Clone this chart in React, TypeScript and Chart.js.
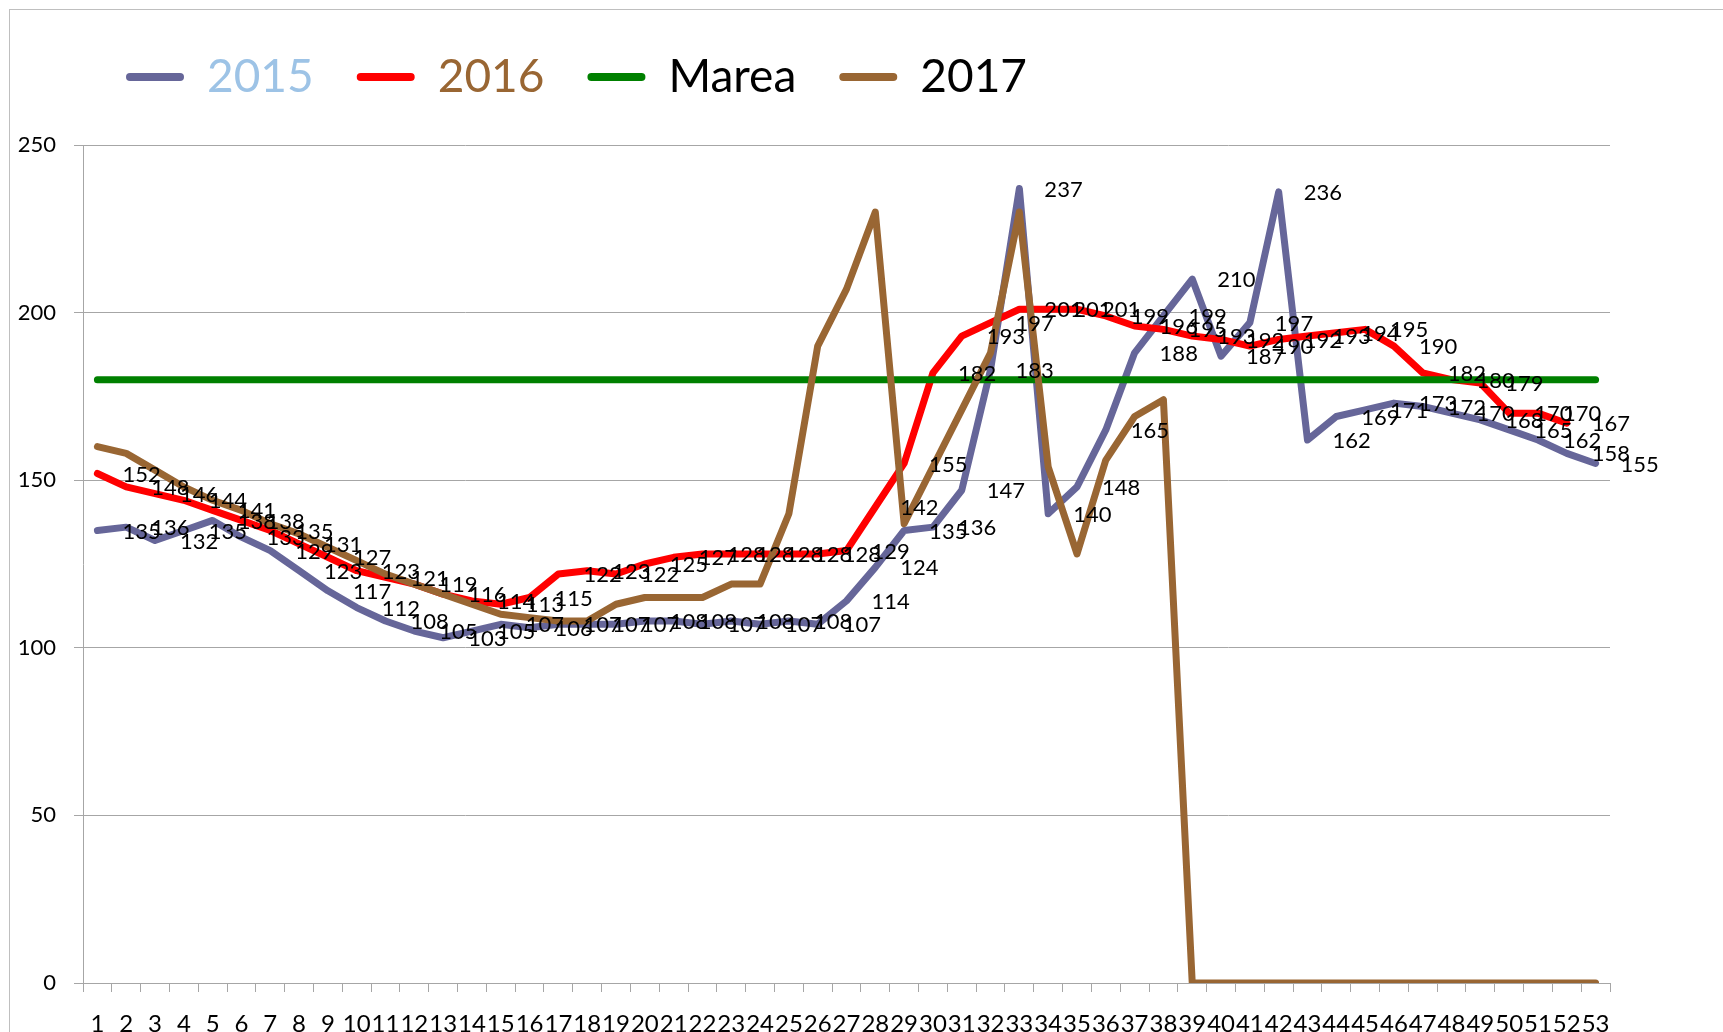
import React, { useEffect, useRef } from 'react';
import { Chart, registerables } from 'chart.js';

Chart.register(...registerables);

const categories = ['1','2','3','4','5','6','7','8','9','10','11','12','13','14','15','16','17','18','19','20','21','22','23','24','25','26','27','28','29','30','31','32','33','34','35','36','37','38','39','40','41','42','43','44','45','46','47','48','49','50','51','52','53'];

const seriesNames = ['2015', '2016', 'Marea', '2017'];

const values2015 = [135,136,132,135,138,133,129,123,117,112,108,105,103,105,107,106,107,107,107,108,108,107,108,107,108,107,114,124,135,136,147,183,237,140,148,165,188,199,210,187,197,236,162,169,171,173,172,170,168,165,162,158,155];

const values2016 = [152,148,146,144,141,138,135,131,127,123,121,119,116,114,113,115,122,123,122,125,127,128,128,128,128,128,129,142,155,182,193,197,201,201,201,199,196,195,193,192,190,192,193,194,195,190,182,180,179,170,170,167,null];

const valuesMarea = [180,180,180,180,180,180,180,180,180,180,180,180,180,180,180,180,180,180,180,180,180,180,180,180,180,180,180,180,180,180,180,180,180,180,180,180,180,180,180,180,180,180,180,180,180,180,180,180,180,180,180,180,180];

const values2017 = [160,158,153,148,144,141,137,134,130,126,122,119,116,113,110,109,108,108,113,115,115,115,119,119,140,190,207,230,137,154,171,188,230,154,128,156,169,174,0,0,0,0,0,0,0,0,0,0,0,0,0,0,0];

const yTicks = [0, 50, 100, 150, 200, 250];

const lineColors = ['#666699', '#FF0000', '#008000', '#996633'];
const legendTextColors = ['#9DC3E6', '#996633', '#000000', '#000000'];
const drawOrder = [3, 2, 1, 0];
const labelledSeries = [0, 1];

const GRID = '#A6A6A6';

const valueLabels = {
  id: 'valueLabels',
  afterDatasetsDraw(chart: any) {
    const ctx = chart.ctx;
    ctx.save();
    ctx.font = '22px Lato';
    ctx.fillStyle = '#000000';
    ctx.textAlign = 'left';
    ctx.textBaseline = 'middle';
    labelledSeries.forEach((di) => {
      const meta = chart.getDatasetMeta(di);
      const data = chart.data.datasets[di].data;
      meta.data.forEach((pt: any, i: number) => {
        const v = data[i];
        if (v === null || v === undefined) return;
        ctx.fillText(String(v), pt.x + 25, pt.y + 1);
      });
    });
    ctx.restore();
  },
};

export default function App() {
  const ref = useRef<HTMLCanvasElement>(null);

  useEffect(() => {
    if (!ref.current) return;
    const allSeries = [values2015, values2016, valuesMarea, values2017];
    const chart = new Chart(ref.current, {
      type: 'line',
      data: {
        labels: categories,
        datasets: allSeries.map((vals, i) => ({
          label: seriesNames[i],
          data: vals,
          borderColor: lineColors[i],
          backgroundColor: lineColors[i],
          borderWidth: 7,
          pointRadius: 0,
          pointHoverRadius: 0,
          tension: 0,
          fill: false,
          borderCapStyle: 'round',
          borderJoinStyle: 'round',
          order: drawOrder[i],
        })) as any,
      },
      options: {
        responsive: false,
        animation: false,
        events: [],
        layout: { padding: { top: 11, right: 113, bottom: 0, left: 0 } },
        plugins: {
          tooltip: { enabled: false },
          title: {
            display: true,
            text: '',
            weight: 500,
            padding: 0,
            font: { size: 35, lineHeight: 1 },
          } as any,
          legend: {
            display: true,
            position: 'top',
            align: 'start',
            fullSize: false,
            labels: {
              font: { family: 'Lato', size: 46 },
              boxWidth: 58,
              boxHeight: 8,
              padding: 43,
              useBorderRadius: true,
              borderRadius: 4,
              generateLabels: (c: any) =>
                c.data.datasets.map((ds: any, i: number) => ({
                  text: ds.label,
                  fillStyle: ds.borderColor,
                  strokeStyle: ds.borderColor,
                  lineWidth: 0,
                  hidden: false,
                  datasetIndex: i,
                  fontColor: legendTextColors[i],
                  borderRadius: 4,
                })),
            },
          } as any,
        },
        scales: {
          x: {
            type: 'category',
            offset: true,
            grid: {
              offset: true,
              drawOnChartArea: false,
              drawTicks: true,
              tickLength: 9,
              color: GRID,
            },
            border: { display: true, color: GRID },
            ticks: {
              autoSkip: false,
              maxRotation: 0,
              minRotation: 0,
              padding: 18,
              color: '#000000',
              font: { family: 'Lato', size: 24 },
            },
            afterFit: (s: any) => {
              s.height = 49;
            },
          },
          y: {
            min: 0,
            max: 250,
            afterBuildTicks: (s: any) => {
              s.ticks = yTicks.map((v) => ({ value: v }));
            },
            grid: { color: GRID, tickLength: 9, drawTicks: true },
            border: { display: true, color: GRID },
            ticks: {
              padding: 18,
              color: '#000000',
              font: { family: 'Lato', size: 22 },
            },
            afterFit: (s: any) => {
              s.width = 83;
            },
          },
        },
      } as any,
      plugins: [valueLabels],
    });
    return () => chart.destroy();
  }, []);

  return (
    <div
      style={{
        position: 'fixed',
        left: 0,
        top: 0,
        width: 1723,
        height: 1032,
        overflow: 'hidden',
        background: '#ffffff',
      }}
    >
      <canvas ref={ref} width={1723} height={1032} style={{ display: 'block' }} />
      <div
        style={{
          position: 'absolute',
          left: 9,
          top: 9,
          width: 1800,
          height: 1100,
          border: '1px solid #BFBFBF',
          pointerEvents: 'none',
        }}
      />
    </div>
  );
}
